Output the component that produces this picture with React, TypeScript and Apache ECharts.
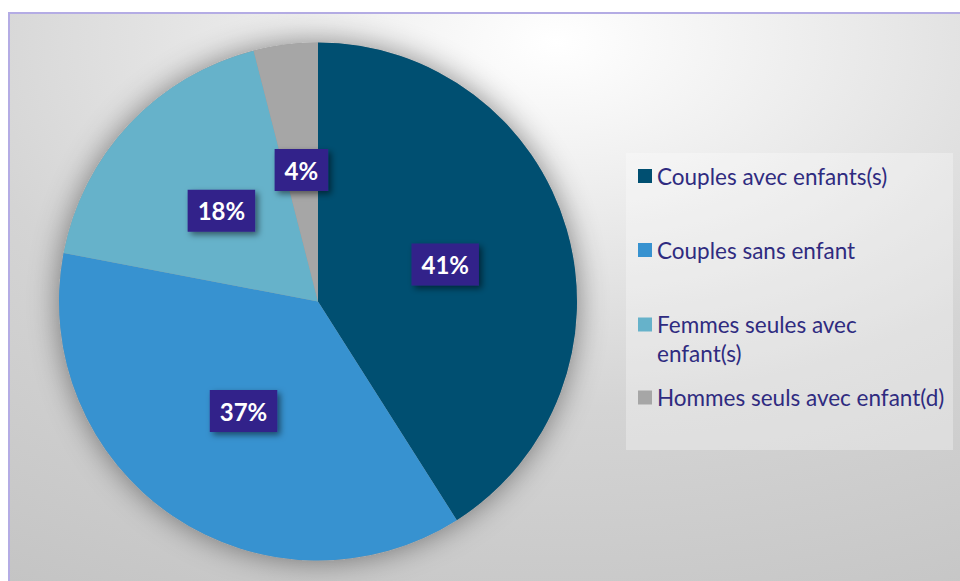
import React, { useEffect, useRef } from "react";
import * as echarts from "echarts";

const categories = [
  "Couples avec enfants(s)",
  "Couples sans enfant",
  "Femmes seules avec enfant(s)",
  "Hommes seuls avec enfant(d)",
];
const values = [41, 37, 18, 4];
const colors = ["#004f71", "#3792d0", "#66b2ca", "#a6a6a6"];
const legendTops = [162, 236, 281.75, 383.5];

export default function App() {
  const ref = useRef<HTMLDivElement>(null);
  useEffect(() => {
    if (!ref.current) return;
    const chart = echarts.init(ref.current, null, { renderer: "svg" });
    const legends = categories.map((name, i) => {
      const twoLine = i === 2;
      return {
        show: true,
        orient: "vertical",
        left: 638,
        top: legendTops[i],
        padding: 0,
        itemWidth: 14,
        itemHeight: 14,
        icon: "rect",
        selectedMode: false,
        data: [name],
        formatter: (n: string) =>
          n === "Femmes seules avec enfant(s)" ? "\nFemmes seules avec\nenfant(s)" : n,
        textStyle: {
          color: "#2f2b80",
          fontFamily: "Lato",
          fontSize: 22.5,
          lineHeight: twoLine ? 28.5 : 28,
        },
      };
    });
    chart.setOption({
      animation: false,
      backgroundColor: "#ffffff",
      graphic: [
        {
          type: "rect",
          z: -10,
          silent: true,
          shape: { x: 9, y: 13, width: 960, height: 580 },
          style: {
            fill: {
              type: "radial",
              x: 0.57,
              y: 0.05,
              r: 1.15,
              colorStops: [
                { offset: 0, color: "#ffffff" },
                { offset: 0.22, color: "#eeeeee" },
                { offset: 0.55, color: "#d4d4d4" },
                { offset: 1, color: "#c2c2c2" },
              ],
            },
            stroke: "#b4ace4",
            lineWidth: 2,
          },
        },
        {
          type: "rect",
          z: 1,
          silent: true,
          shape: { x: 626, y: 153, width: 327, height: 297 },
          style: { fill: "rgba(255,255,255,0.3)" },
        },
      ],
      legend: legends,
      series: [
        {
          type: "pie",
          z: 1,
          silent: true,
          center: [318, 301.5],
          radius: [0, 259],
          label: { show: false },
          labelLine: { show: false },
          itemStyle: {
            color: "#999999",
            shadowBlur: 30,
            shadowColor: "rgba(0,0,0,0.45)",
          },
          data: [{ value: 1, name: "__shadow" }],
        },
        {
          type: "pie",
          z: 2,
          silent: true,
          center: [318, 301.5],
          radius: [0, 259],
          startAngle: 90,
          clockwise: true,
          emphasis: { disabled: true },
          data: categories.map((name, i) => ({
            name,
            value: values[i],
            itemStyle: { color: colors[i] },
          })),
          label: {
            show: true,
            position: "inside",
            formatter: (p: any) => p.value + "%",
            color: "#ffffff",
            fontFamily: "Lato",
            fontWeight: "bold",
            fontSize: 24,
            lineHeight: 24,
            backgroundColor: "#30248a",
            padding: [9, 10, 9, 10],
            shadowColor: "rgba(0,0,0,0.5)",
            shadowBlur: 6,
            shadowOffsetX: 3,
            shadowOffsetY: 3,
          },
          labelLine: { show: false },
        },
      ],
    });
    return () => chart.dispose();
  }, []);
  return (
    <div
      ref={ref}
      style={{ position: "absolute", left: 0, top: 0, width: 960, height: 581 }}
    />
  );
}
